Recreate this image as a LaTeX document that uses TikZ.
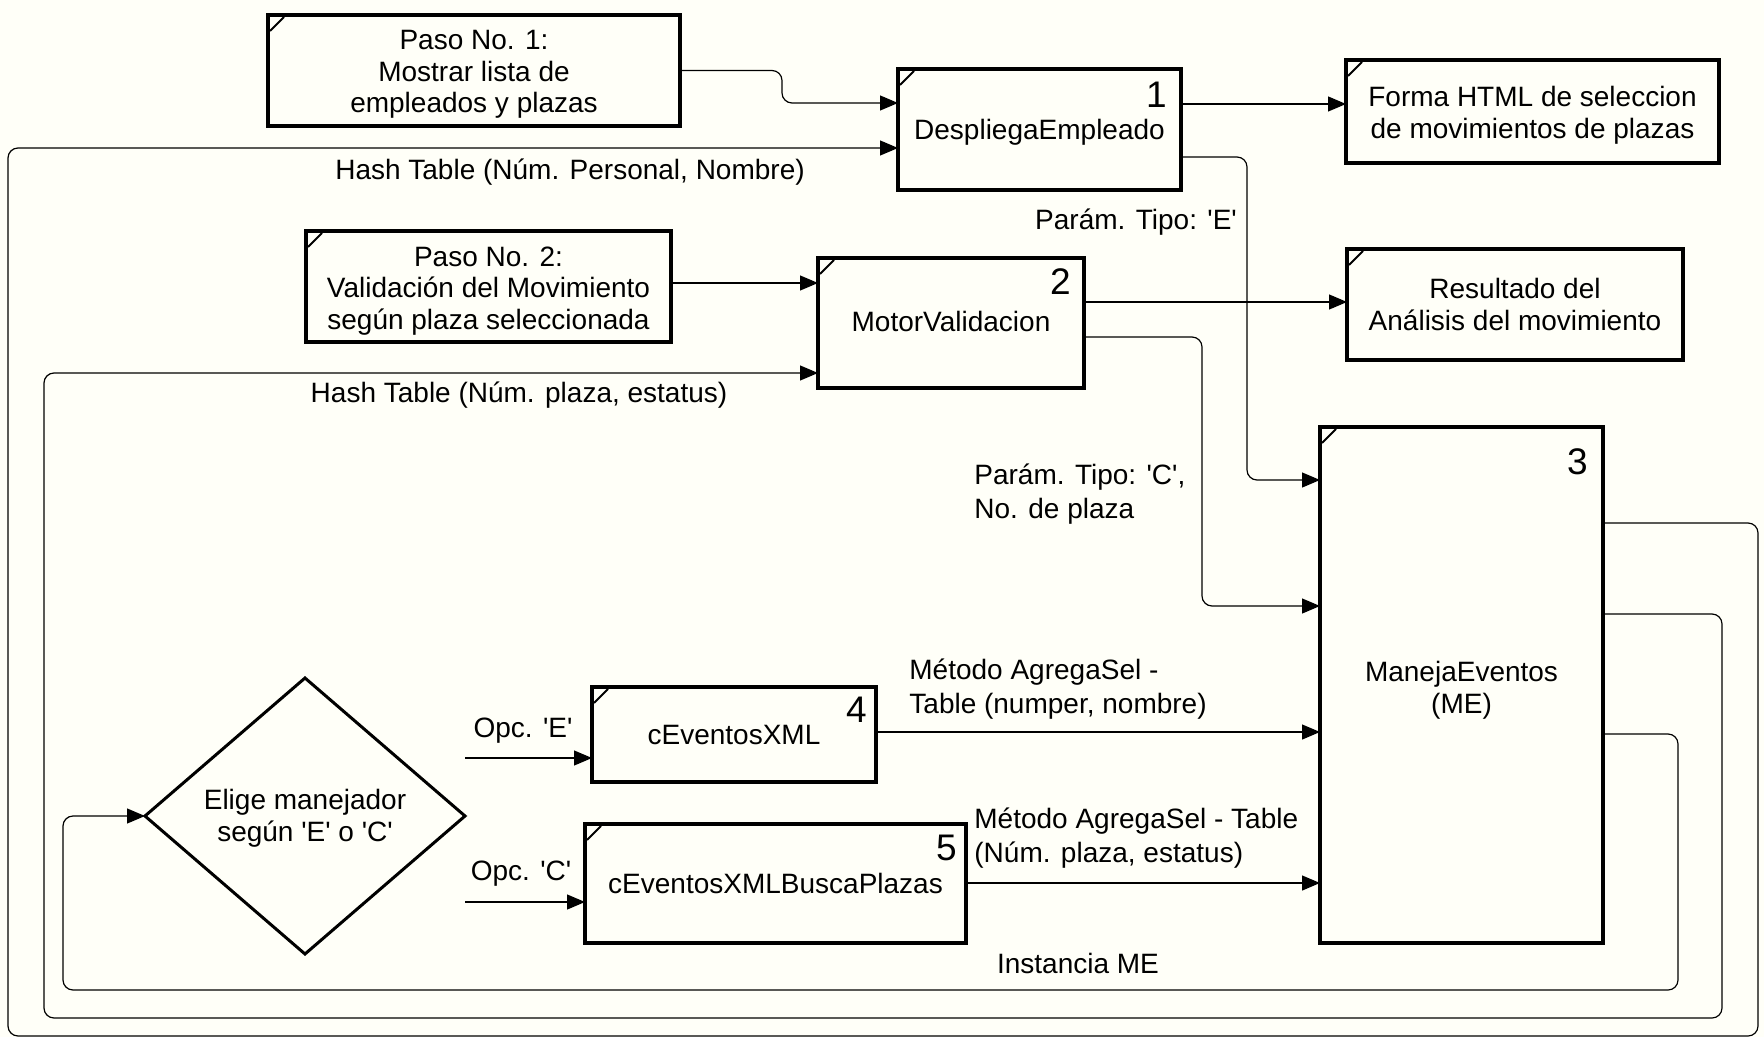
\documentclass[tikz,border=0pt]{standalone}
\usepackage{fontspec}
\setmainfont{Liberation Sans}
\usetikzlibrary{arrows.meta,shapes.geometric}
\definecolor{paper}{RGB}{255,255,248}
\newcommand{\qt}{\textquotesingle}

\begin{document}
\begin{tikzpicture}[x=0.5pt,y=-0.5pt,
  box/.style={draw, line width=2pt, inner sep=0pt, outer sep=0pt},
  btext/.style={inner sep=0pt, align=center, font=\fontsize{14}{15.75}\selectfont},
  num/.style={inner sep=0pt, anchor=north east, font=\fontsize{18.5}{18.5}\selectfont},
  lbl/.style={inner sep=0pt, align=left, font=\fontsize{14}{17}\selectfont},
  flow/.style={line width=0.6pt, rounded corners=5pt,
               -{Triangle[length=9pt,width=7.5pt]}},
  tick/.style={line width=1pt}]

% page
\fill[paper] (0,0) rectangle (1764,1037);
\useasboundingbox (0,0) rectangle (1764,1037);

% process boxes
\node[box, minimum width=206pt, minimum height=55.5pt] (paso1) at (474,70.5) {};
\node[box, minimum width=141.5pt, minimum height=60.5pt] (desp) at (1039.5,129.5) {};
\node[box, minimum width=186.5pt, minimum height=51.5pt] (forma) at (1532.5,111.5) {};
\node[box, minimum width=182.5pt, minimum height=55.5pt] (paso2) at (488.5,286.5) {};
\node[box, minimum width=133pt, minimum height=65pt] (motor) at (951,323) {};
\node[box, minimum width=168pt, minimum height=55.5pt] (result) at (1515,304.5) {};
\node[box, minimum width=141.5pt, minimum height=258pt] (me) at (1461.5,685) {};
\node[box, minimum width=142pt, minimum height=47.5pt] (cxml) at (734,734.5) {};
\node[box, minimum width=190.5pt, minimum height=59.5pt] (cbusca) at (775.5,883.5) {};
\node[draw, diamond, line width=1.5pt, inner sep=0pt, outer sep=0pt,
      minimum width=160pt, minimum height=138pt] (elige) at (305,816) {};

% box texts
\node[btext] (paso1t) at ([yshift=-2pt]paso1.center)
  {Paso No. 1:\\Mostrar lista de\\empleados y plazas};
\node[btext] (despt) at ([yshift=-1.2pt]desp.center) {DespliegaEmpleado};
\node[btext] (format) at ([yshift=-2pt]forma.center)
  {Forma HTML de seleccion\\de movimientos de plazas};
\node[btext] (paso2t) at ([yshift=-2.2pt]paso2.center)
  {Paso No. 2:\\Validación del Movimiento\\según plaza seleccionada};
\node[btext] (motort) at ([yshift=1pt]motor.center) {MotorValidacion};
\node[btext] (resultt) at (result.center) {Resultado del\\Análisis del movimiento};
\node[btext] (met) at ([yshift=-2.5pt]me.center) {ManejaEventos\\(ME)};
\node[btext] (cxmlt) at (cxml.center) {cEventosXML};
\node[btext] (cbuscat) at (cbusca.center) {cEventosXMLBuscaPlazas};
\node[btext] (eliget) at ([yshift=-1.2pt]elige.center)
  {Elige manejador\\según \qt E\qt{} o \qt C\qt};

% corner marks
\foreach \b in {paso1,desp,forma,paso2,motor,result,me,cxml,cbusca}
  \draw[tick] ([shift={(2,16)}]\b.north west) -- ([shift={(16,2)}]\b.north west);

% process numbers
\node[num] (n1) at ([shift={(-14,13)}]desp.north east) {1};
\node[num] (n2) at ([shift={(-13,10)}]motor.north east) {2};
\node[num] (n3) at ([shift={(-15,21)}]me.north east) {3};
\node[num] (n4) at ([shift={(-9,10)}]cxml.north east) {4};
\node[num] (n5) at ([shift={(-9,11)}]cbusca.north east) {5};

% free ends of the option arrows
\coordinate (optE) at (465,758);
\coordinate (optC) at (465,902);

% connectors
\draw[flow] (paso1.east) -- (782,70.5) -- (782,103) -- (desp.west |- 0,103);
\draw[flow] (desp.east |- 0,104) -- (forma.west |- 0,104);
\draw[flow] (desp.east |- 0,157) -- (1247,157) -- (1247,480) -- (me.west |- 0,480);
\draw[flow] (paso2.east |- 0,283) -- (motor.west |- 0,283);
\draw[flow] (motor.east |- 0,302) -- (result.west |- 0,302);
\draw[flow] (motor.east |- 0,337) -- (1202,337) -- (1202,606) -- (me.west |- 0,606);
\draw[flow] (cxml.east |- 0,732) -- (me.west |- 0,732);
\draw[flow] (cbusca.east |- 0,883) -- (me.west |- 0,883);
\draw[flow] (optE) -- (cxml.west |- optE);
\draw[flow] (optC) -- (cbusca.west |- optC);

% feedback loops from ManejaEventos
\draw[flow] (me.east |- 0,523) -- (1758,523) -- (1758,1036) -- (8,1036) -- (8,148)
  -- (desp.west |- 0,148);
\draw[flow] (me.east |- 0,614) -- (1722,614) -- (1722,1018) -- (44,1018) -- (44,373)
  -- (motor.west |- 0,373);
\draw[flow] (me.east |- 0,734) -- (1678,734) -- (1678,990) -- (63,990) -- (63,816)
  -- (elige.west);

% connector labels
\node[lbl] (lhash1) at (570,172) {Hash Table (Núm. Personal, Nombre)};
\node[lbl] (ltipoE) at (1136,222) {Parám. Tipo: \qt E\qt};
\node[lbl] (lhash2) at (519,395) {Hash Table (Núm. plaza, estatus)};
\node[lbl, anchor=west] (ltipoC) at (974,494) {Parám. Tipo: \qt C\qt,\\No. de plaza};
\node[lbl, anchor=west] (lmet1) at (909,689.5) {Método AgregaSel -\\Table (numper, nombre)};
\node[lbl, anchor=west] (lmet2) at (974,838.5) {Método AgregaSel - Table\\(Núm. plaza, estatus)};
\node[lbl] (linst) at (1078,963) {Instancia ME};
\node[lbl] (lopcE) at (523,731) {Opc. \qt E\qt};
\node[lbl] (lopcC) at (521,874) {Opc. \qt C\qt};

\end{tikzpicture}
\end{document}
